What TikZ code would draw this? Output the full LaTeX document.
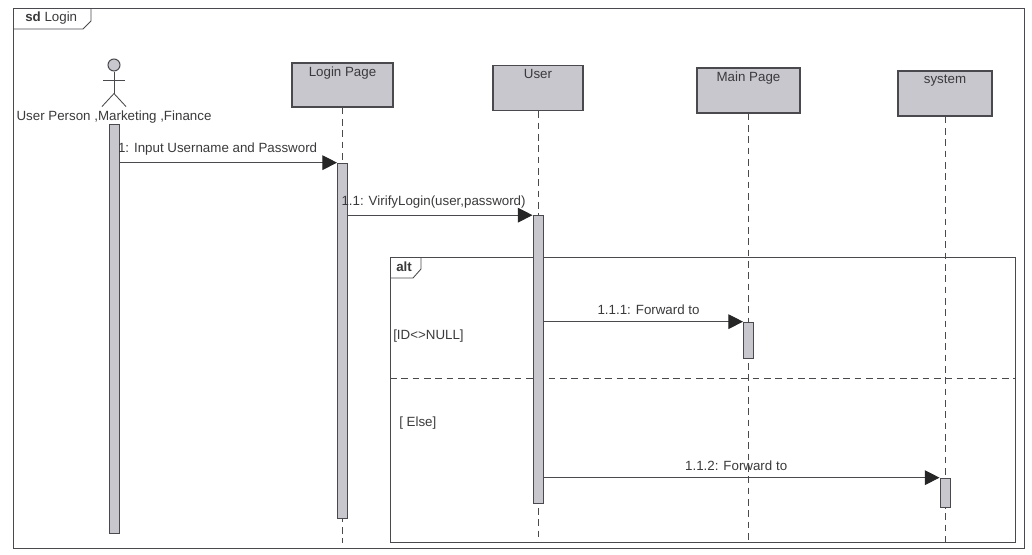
\documentclass[tikz,border=0pt]{standalone}
\usepackage{fontspec}
\setmainfont{Liberation Sans}
\usetikzlibrary{positioning,arrows.meta}
\definecolor{boxgris}{HTML}{C8C7CE}
\definecolor{traitgris}{HTML}{4A4A4E}
\definecolor{textegris}{HTML}{3A3A3C}
\tikzstyle{cadre}=[draw=traitgris,line width=0.65pt]
\tikzstyle{boite}=[rectangle,draw=traitgris,fill=boxgris,line width=1pt,minimum height=33.75pt,inner sep=0pt]
\tikzstyle{titre}=[anchor=north,text=textegris]
\tikzstyle{barre}=[rectangle,draw=traitgris,fill=boxgris,line width=0.7pt,minimum width=7.5pt,inner sep=0pt,anchor=north]
\tikzstyle{vie}=[draw=traitgris,line width=0.6pt,dash pattern=on 5pt off 3.5pt]
\tikzstyle{msg}=[draw=traitgris,line width=0.7pt,-{Triangle[length=11pt,width=11pt,color=black!85]}]
\tikzstyle{etiq}=[text=textegris,inner sep=2pt]

\begin{document}
\begin{tikzpicture}[x=0.75pt,y=-0.75pt,font=\fontsize{10}{12}\selectfont,text=textegris]
\useasboundingbox (0,0) rectangle (1032,554);

\draw[cadre] (13,8) rectangle (1024,548);
\draw[cadre] (13,29) -- (83,29) -- (91,21) -- (91,8);
\node[anchor=west,inner sep=0pt] (sd) at (25,18) {\textbf{sd} Login};

\node[boite,minimum width=75.75pt,minimum height=33pt,label={[titre]north:Login Page}] (LogP) at (342.5,85) {};
\node[boite,minimum width=67.5pt,label={[titre]north:User}] (Usr) at (538,88) {};
\node[boite,minimum width=77.25pt,label={[titre]north:Main Page}] (MainP) at (748.5,90.5) {};
\node[boite,minimum width=70.5pt,label={[titre]north:system}] (Sys) at (945,93.5) {};

\node[circle,draw=traitgris,fill=boxgris,line width=0.8pt,minimum size=9pt,inner sep=0pt] (Act) at (114,65) {};
\draw[cadre] (Act.south) -- ++(0,22) coordinate (hanche);
\draw[cadre] (Act.south) ++(-11,9) -- ++(22,0);
\draw[cadre] (hanche) -- ++(-12,13) (hanche) -- ++(12,13);
\node (ActN) [below=26pt of Act] {User Person ,Marketing ,Finance};

\coordinate (fin) at (0,543);
\draw[vie] (LogP.south) -- (LogP.south |- fin);
\draw[vie] (Usr.south) -- (Usr.south |- fin);
\draw[vie] (MainP.south) -- (MainP.south |- fin);
\draw[vie] (Sys.south) -- (Sys.south |- fin);

\draw[cadre] (390,257) rectangle (1015,542);
\draw[cadre] (390,278) -- (413,278) -- (421,269) -- (421,257);
\node[anchor=west,inner sep=0pt] (alt) at (396,267) {\textbf{alt}};
\draw[vie] (390,378) -- (1015,378);
\node[anchor=west,inner sep=0pt] (cond1) at (393,336) {[ID<>NULL]};
\node[anchor=west,inner sep=0pt] (cond2) at (399,423) {[ Else]};

\node[barre,minimum height=306.75pt] (ActB) at (114,124) {};
\node[barre,minimum height=266.25pt] (LogB) [below=41.25pt of LogP] {};
\node[barre,minimum height=216pt] (UsrB) [below=78pt of Usr] {};
\node[barre,minimum height=27pt] (MainB) [below=156pt of MainP] {};
\node[barre,minimum height=21.75pt] (SysB) [below=270.75pt of Sys] {};

\draw[msg] (ActB.east |- LogB.north) -- (LogB.north west) node[etiq,midway,above=3pt,xshift=-8pt] {1: Input Username and Password};
\draw[msg] (LogB.east |- UsrB.north) -- (UsrB.north west) node[etiq,midway,above=3pt,xshift=-5pt] {1.1: VirifyLogin(user,password)};
\draw[msg] (UsrB.east |- MainB.north) -- (MainB.north west) node[etiq,midway,above=3pt,xshift=4pt] {1.1.1: Forward to};
\draw[msg] (UsrB.east |- SysB.north) -- (SysB.north west) node[etiq,midway,above=3pt,xshift=-4pt] {1.1.2: Forward to};

\end{tikzpicture}
\end{document}
